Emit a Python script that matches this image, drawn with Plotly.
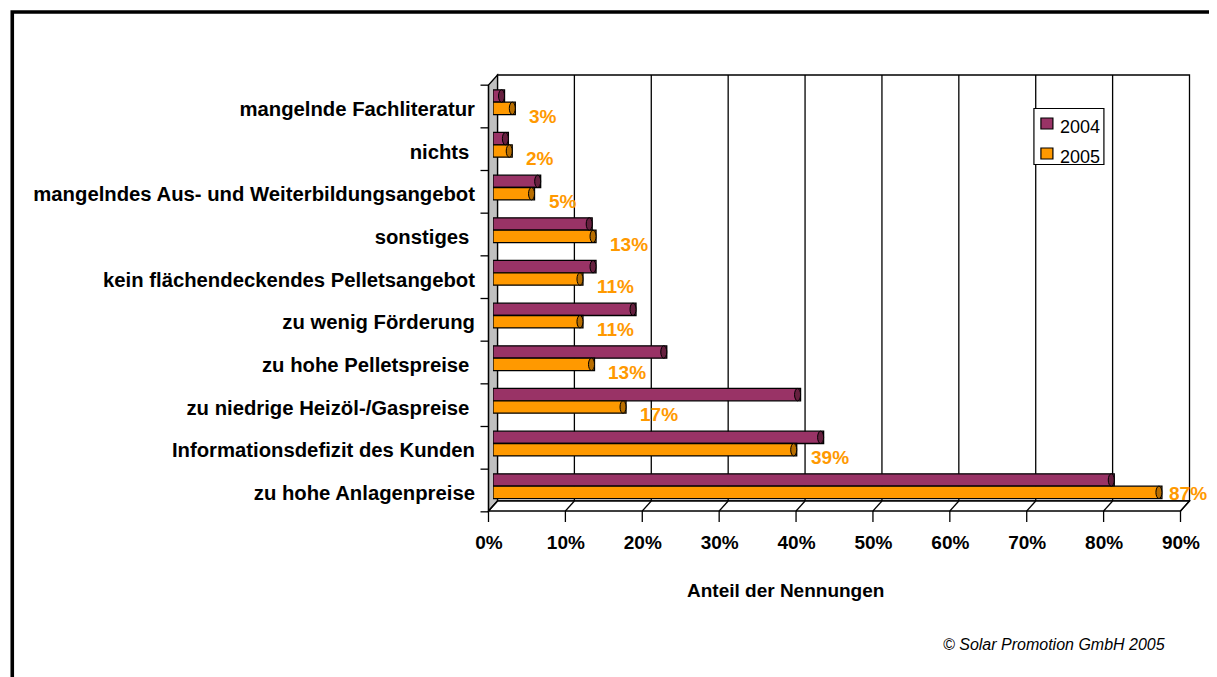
import plotly.graph_objects as go

# ---------------- data ----------------
categories = [
    "zu hohe Anlagenpreise",
    "Informationsdefizit des Kunden",
    "zu niedrige Heizöl-/Gaspreise\u00a0",
    "zu hohe Pelletspreise\u00a0",
    "zu wenig Förderung",
    "kein flächendeckendes Pelletsangebot",
    "sonstiges\u00a0",
    "mangelndes Aus- und Weiterbildungsangebot",
    "nichts\u00a0",
    "mangelnde Fachliteratur",
]
values_2004 = [80.8, 43.0, 40.0, 22.6, 18.6, 13.4, 12.9, 6.2, 2.0, 1.5]
values_2005 = [87.0, 39.5, 17.3, 13.2, 11.7, 11.7, 13.4, 5.4, 2.5, 2.9]
labels_2005 = ["87%", "39%", "17%", "13%", "11%", "11%", "13%", "5%", "2%", "3%"]
series_names = ["2004", "2005"]
x_ticks = [0, 10, 20, 30, 40, 50, 60, 70, 80, 90]
x_tick_labels = ["0%", "10%", "20%", "30%", "40%", "50%", "60%", "70%", "80%", "90%"]
x_title = "Anteil der Nennungen"
copyright_text = "© Solar Promotion GmbH 2005"

# ---------------- styling / geometry (reference-pixel coordinates) ----------------
W, H = 1217, 677
PAGE_OFF = 8                 # default body margin of the html page
FIG_W, FIG_H = W - PAGE_OFF, H - PAGE_OFF
L, R, T, B = 492.5, 1184.6, 75.0, 511.0
X_MAX = 90.0
YMIN, YMAX = -0.422, 9.797
DX, DY = 4.5, 5.0            # half depth of the pseudo-3D box in pixels
FONT = "Liberation Sans, Arial, sans-serif"
C2004, C2005 = "#993366", "#FF9900"
CAP2004, CAP2005 = "#66203F", "#B86E00"
BAR_W = 0.29
OFF_2005 = -0.13
OFF_2004 = OFF_2005 + BAR_W

ypos = list(range(len(categories)))


def px(xp):
    return (xp - L) / (R - L)


def py(yp):
    return (B - yp) / (B - T)


def xv(v):
    return L + v * (R - L) / X_MAX


def yv(y):
    return B - (y - YMIN) * (B - T) / (YMAX - YMIN)


fig = go.Figure()
fig.add_trace(go.Bar(
    name=series_names[0], y=ypos, x=values_2004, orientation="h",
    width=BAR_W, offset=OFF_2004, showlegend=False,
    marker=dict(color=C2004, line=dict(color="black", width=1.3)),
))
fig.add_trace(go.Bar(
    name=series_names[1], y=ypos, x=values_2005, orientation="h",
    width=BAR_W, offset=OFF_2005, showlegend=False,
    marker=dict(color=C2005, line=dict(color="black", width=1.3)),
))

shapes = []
line_k = dict(color="black", width=1.3)

# back wall
shapes.append(dict(type="rect", xref="paper", yref="paper", layer="below",
                   x0=px(xv(0) + DX), x1=px(xv(X_MAX) + DX),
                   y0=py(B - 2 * DY), y1=py(T),
                   fillcolor="white", line=line_k))
# grid lines on back wall
for v in x_ticks[1:-1]:
    shapes.append(dict(type="line", xref="paper", yref="paper", layer="below",
                       x0=px(xv(v) + DX), x1=px(xv(v) + DX),
                       y0=py(B - 2 * DY), y1=py(T), line=line_k))
# left side wall
x_f0, x_b0 = xv(0) - DX, xv(0) + DX
shapes.append(dict(type="path", xref="paper", yref="paper", layer="below",
                   path=f"M {px(x_f0)},{py(B)} L {px(x_f0)},{py(T + 2 * DY)} "
                        f"L {px(x_b0)},{py(T)} L {px(x_b0)},{py(B - 2 * DY)} Z",
                   fillcolor="#C0C0C0", line=line_k))
# floor
shapes.append(dict(type="path", xref="paper", yref="paper", layer="below",
                   path=f"M {px(xv(0) - DX)},{py(B)} L {px(xv(X_MAX) - DX)},{py(B)} "
                        f"L {px(xv(X_MAX) + DX)},{py(B - 2 * DY)} L {px(xv(0) + DX)},{py(B - 2 * DY)} Z",
                   fillcolor="white", line=line_k))
for v in x_ticks:
    shapes.append(dict(type="line", xref="paper", yref="paper", layer="below",
                       x0=px(xv(v) - DX), x1=px(xv(v) + DX),
                       y0=py(B), y1=py(B - 2 * DY), line=line_k))
    # tick marks
    shapes.append(dict(type="line", xref="paper", yref="paper", layer="below",
                       x0=px(xv(v) - DX), x1=px(xv(v) - DX),
                       y0=py(B), y1=py(B + 11), line=line_k))
# y axis front line and ticks
shapes.append(dict(type="line", xref="paper", yref="paper", layer="below",
                   x0=px(x_f0), x1=px(x_f0), y0=py(B), y1=py(T + 2 * DY), line=line_k))
for k in range(len(categories) + 1):
    yp = yv(k - 0.5) - 2.5
    shapes.append(dict(type="line", xref="paper", yref="paper", layer="below",
                       x0=px(x_f0 - 8), x1=px(x_f0), y0=py(yp), y1=py(yp), line=line_k))

# bar end caps
for vals, off, cap in ((values_2004, OFF_2004, CAP2004), (values_2005, OFF_2005, CAP2005)):
    for i, v in enumerate(vals):
        shapes.append(dict(type="circle", xref="x", yref="y", layer="above",
                           xsizemode="pixel", xanchor=v, x0=-6, x1=0,
                           y0=i + off, y1=i + off + BAR_W,
                           fillcolor=cap, line=dict(color="black", width=1)))

# legend box (drawn like the original)
LEG_X0, LEG_X1, LEG_Y0, LEG_Y1 = 1033.5, 1103.5, 108.5, 164.5
shapes.append(dict(type="rect", xref="paper", yref="paper", layer="above",
                   x0=px(LEG_X0), x1=px(LEG_X1), y0=py(LEG_Y1), y1=py(LEG_Y0),
                   fillcolor="white", line=dict(color="black", width=1.2)))
annotations = []
for j, (name, col) in enumerate(zip(series_names, (C2004, C2005))):
    yc = 123.5 + 30 * j
    shapes.append(dict(type="rect", xref="paper", yref="paper", layer="above",
                       x0=px(1040.5), x1=px(1052.5), y0=py(yc + 5.5), y1=py(yc - 5.5),
                       fillcolor=col, line=dict(color="black", width=1.2)))
    annotations.append(dict(x=px(1058), y=py(yc + 3), xref="paper", yref="paper",
                            text=name, showarrow=False, xanchor="left", yanchor="middle",
                            font=dict(family=FONT, size=18, color="black")))

# outer frame
shapes.append(dict(type="path", xref="paper", yref="paper", layer="above",
                   path=f"M {px(11.7)},{py(H + 20)} L {px(11.7)},{py(12)} L {px(W + 20)},{py(12)}",
                   line=dict(color="black", width=3.6)))

for i, (v, t) in enumerate(zip(values_2005, labels_2005)):
    near_end = v > 0.9 * X_MAX
    annotations.append(dict(x=v, y=i, xref="x", yref="y", text=f"<b>{t}</b>",
                            showarrow=False, xanchor="left", yanchor="middle",
                            xshift=5 if near_end else 12, yshift=0 if near_end else -7,
                            font=dict(family=FONT, size=19, color=C2005)))
annotations.append(dict(x=px(785), y=py(590), xref="paper", yref="paper",
                        text=f"<b>{x_title}</b>", showarrow=False,
                        xanchor="center", yanchor="middle",
                        font=dict(family=FONT, size=19, color="black")))
annotations.append(dict(x=px(1167), y=py(644), xref="paper", yref="paper",
                        text=f"<i>{copyright_text}</i>", showarrow=False,
                        xanchor="right", yanchor="middle",
                        font=dict(family=FONT, size=16, color="black")))

fig.update_layout(
    width=FIG_W, height=FIG_H,
    margin=dict(l=L - PAGE_OFF, r=W - R, t=T - PAGE_OFF, b=H - B, pad=0),
    paper_bgcolor="white", plot_bgcolor="rgba(0,0,0,0)",
    barmode="overlay",
    font=dict(family=FONT, color="black"),
    showlegend=False,
    shapes=shapes,
    annotations=annotations,
    xaxis=dict(range=[0, X_MAX], showgrid=False, zeroline=False, showline=False,
               tickvals=x_ticks, ticktext=[f"<b>{t}</b>" for t in x_tick_labels],
               ticks="", ticklabelshift=-int(round(DX)), ticklabelstandoff=18,
               tickfont=dict(family=FONT, size=19, color="black")),
    yaxis=dict(range=[YMIN, YMAX], showgrid=False, zeroline=False, showline=False,
               tickvals=ypos, ticktext=[f"<b>{c}</b>" for c in categories],
               ticks="", ticklabelstandoff=17,
               tickfont=dict(family=FONT, size=20.3, color="black")),
)

fig.write_html("out.html")
